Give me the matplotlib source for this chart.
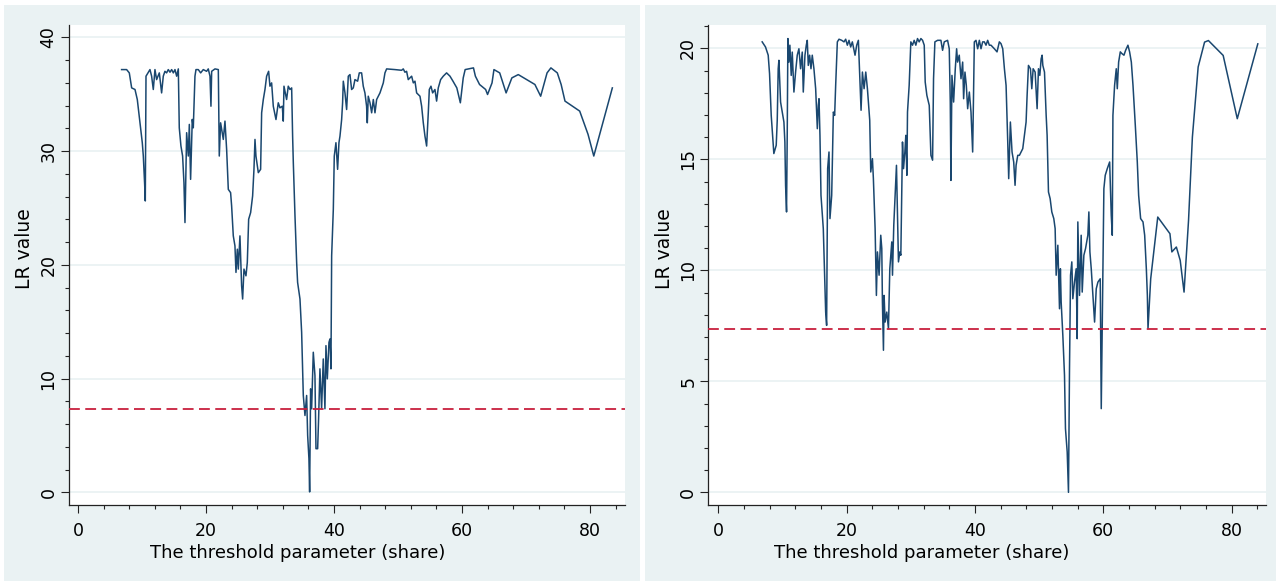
import numpy as np
import matplotlib
matplotlib.use("Agg")
import matplotlib.pyplot as plt
from matplotlib.patches import Rectangle
from matplotlib.ticker import MultipleLocator

# LR statistic over the threshold grid
share_left = [
    6.82, 7.60, 8.02, 8.39, 8.91, 9.27, 9.69, 10.05, 10.21, 10.42, 10.52, 10.63,
    11.25, 11.51, 11.77, 12.03, 12.29, 12.71, 13.07, 13.33, 13.59, 13.85, 14.11,
    14.38, 14.64, 14.90, 15.16, 15.42, 15.68, 15.83, 16.09, 16.35, 16.56, 16.72,
    16.98, 17.24, 17.40, 17.60, 17.86, 18.02, 18.28, 18.44, 18.80, 19.17, 19.58,
    20.10, 20.36, 20.63, 20.78, 20.89, 21.41, 21.93, 22.08, 22.29, 22.71, 22.97,
    23.23, 23.49, 23.85, 24.01, 24.27, 24.53, 24.69, 24.90, 25.05, 25.31, 25.57,
    25.73, 25.94, 26.25, 26.46, 26.67, 26.98, 27.29, 27.50, 27.66, 27.81, 28.18,
    28.54, 28.70, 28.96, 29.22, 29.48, 29.79, 30.00, 30.26, 30.52, 30.94, 31.30,
    31.56, 31.93, 32.08, 32.19, 32.60, 32.86, 33.13, 33.39, 33.54, 33.65, 33.91,
    34.17, 34.32, 34.69, 34.95, 35.21, 35.47, 35.73, 35.89, 36.09, 36.20, 36.35,
    36.51, 36.77, 37.03, 37.19, 37.45, 37.60, 37.81, 38.07, 38.33, 38.59, 38.75,
    38.96, 39.22, 39.38, 39.53, 39.64, 39.90, 40.05, 40.31, 40.57, 40.78, 40.94,
    41.20, 41.35, 41.46, 41.72, 41.98, 42.24, 42.50, 42.76, 43.02, 43.28, 43.70,
    43.96, 44.32, 44.58, 44.84, 45.10, 45.21, 45.36, 45.63, 45.89, 46.15, 46.41,
    46.67, 47.19, 47.71, 47.97, 48.23, 49.53, 50.57, 50.83, 51.09, 51.35, 51.61,
    51.88, 52.14, 52.40, 52.66, 52.92, 53.44, 53.70, 53.96, 54.22, 54.48, 54.74,
    54.90, 55.16, 55.42, 55.78, 56.04, 56.30, 56.67, 57.08, 57.60, 58.13, 58.60,
    59.20, 59.75, 60.20, 60.50, 61.80, 62.10, 62.75, 63.70, 64.00, 64.70, 65.00,
    65.90, 66.90, 67.80, 68.80, 70.10, 71.40, 72.30, 73.30, 73.90, 74.90, 75.50,
    76.10, 78.40, 79.70, 80.60, 83.50,
]
lr_left = [
    37.16, 37.16, 36.87, 35.55, 35.41, 34.53, 32.48, 30.73, 29.56, 27.07, 25.61, 36.58,
    37.16, 36.58, 35.41, 37.16, 36.28, 36.87, 35.11, 36.58, 37.01, 36.87, 37.16,
    36.93, 37.16, 36.87, 37.16, 36.58, 37.22, 32.04, 30.44, 29.56, 27.22, 23.71,
    31.61, 29.56, 32.34, 27.51, 32.78, 32.04, 36.58, 37.16, 37.16, 36.87, 37.16,
    37.01, 37.22, 36.58, 33.94, 37.01, 37.22, 37.16, 29.56, 32.48, 31.02, 32.63,
    30.14, 26.63, 26.34, 25.17, 22.54, 21.66, 19.33, 21.37, 19.62, 22.54, 18.16,
    16.99, 19.62, 19.03, 20.20, 24.00, 24.59, 26.05, 28.39, 31.02, 29.56, 28.10,
    28.39, 33.36, 34.53, 35.41, 36.58, 37.01, 35.70, 35.99, 33.94, 32.77, 34.24,
    33.80, 33.94, 32.63, 35.70, 34.53, 35.70, 35.41, 35.55, 31.31, 28.97, 24.30,
    20.20, 18.45, 16.99, 14.06, 8.51, 6.75, 8.51, 5.00, 2.95, 0.03, 9.09,
    7.34, 12.31, 10.26, 3.83, 3.83, 6.46, 10.85, 7.34, 11.72, 7.34, 12.89,
    9.97, 13.18, 13.48, 10.85, 20.79, 24.88, 29.56, 30.73, 28.39, 30.73, 31.31,
    32.77, 34.24, 36.14, 35.11, 33.65, 36.58, 36.72, 35.41, 35.55, 36.28, 36.14,
    36.87, 36.87, 35.70, 35.11, 33.94, 32.48, 34.82, 34.24, 33.36, 34.53, 33.36,
    34.53, 35.11, 35.99, 36.87, 37.22, 37.16, 37.10, 37.22, 36.93, 37.01, 36.28,
    36.43, 36.58, 35.99, 36.14, 35.11, 34.82, 33.94, 32.48, 31.31, 30.44, 33.36,
    35.41, 35.70, 35.11, 35.41, 34.39, 35.55, 36.28, 36.58, 36.87, 36.58, 36.14,
    35.55, 34.24, 36.43, 37.16, 37.31, 36.58, 35.85, 35.41, 34.97, 35.99, 37.16,
    36.87, 35.11, 36.43, 36.72, 36.29, 35.85, 34.82, 36.87, 37.31, 36.87, 35.85,
    34.39, 33.51, 31.47, 29.56, 35.55,
]

share_right = [
    6.82, 7.34, 7.76, 7.97, 8.23, 8.49, 8.64, 9.01, 9.17, 9.32, 9.43, 9.69, 9.95,
    10.21, 10.36, 10.47, 10.62, 10.73, 10.83, 10.99, 11.14, 11.35, 11.51, 11.77,
    12.03, 12.29, 12.55, 12.81, 13.07, 13.23, 13.49, 13.70, 13.85, 14.01, 14.22,
    14.43, 14.63, 14.89, 15.16, 15.42, 15.57, 15.68, 15.83, 15.99, 16.20, 16.35,
    16.51, 16.72, 16.87, 17.03, 17.24, 17.39, 17.66, 17.92, 18.12, 18.28, 18.54,
    18.80, 19.22, 19.58, 19.84, 20.10, 20.36, 20.62, 20.88, 21.30, 21.56, 21.82,
    22.03, 22.24, 22.45, 22.71, 22.97, 23.23, 23.59, 23.75, 24.01, 24.16, 24.43,
    24.63, 24.79, 25.05, 25.31, 25.47, 25.57, 25.73, 25.83, 25.99, 26.25, 26.51,
    26.72, 27.03, 27.14, 27.34, 27.55, 27.76, 28.07, 28.28, 28.44, 28.70, 28.86,
    29.07, 29.22, 29.38, 29.48, 29.74, 30.00, 30.26, 30.52, 30.78, 31.04, 31.30,
    31.57, 31.83, 32.09, 32.24, 32.50, 32.87, 33.13, 33.39, 33.54, 33.75, 34.17,
    34.69, 34.95, 35.21, 35.73, 35.99, 36.15, 36.25, 36.41, 36.67, 36.93, 37.14,
    37.29, 37.55, 37.82, 38.08, 38.23, 38.44, 38.65, 38.86, 39.12, 39.38, 39.64,
    39.90, 40.16, 40.42, 40.68, 40.94, 41.20, 41.46, 41.72, 41.98, 42.24, 42.50,
    43.02, 43.44, 43.80, 44.06, 44.33, 44.59, 44.85, 45.11, 45.26, 45.52, 45.78,
    46.04, 46.25, 46.41, 46.67, 46.93, 47.19, 47.45, 47.71, 47.97, 48.13, 48.34,
    48.65, 48.86, 49.07, 49.38, 49.69, 49.90, 50.11, 50.32, 50.47, 50.58, 50.84,
    51.10, 51.25, 51.46, 51.72, 51.98, 52.29, 52.50, 52.66, 52.92, 53.18, 53.32,
    53.44, 53.70, 53.96, 54.11, 54.38, 54.58, 54.74, 54.90, 55.10, 55.26, 55.52,
    55.78, 55.94, 56.04, 56.30, 56.56, 56.72, 56.98, 57.24, 57.60, 57.76, 57.92,
    58.13, 58.39, 58.65, 58.91, 59.17, 59.53, 59.69, 59.84, 60.10, 60.31, 60.63,
    61.00, 61.25, 61.41, 61.51, 61.77, 62.03, 62.19, 62.40, 62.66, 62.92, 63.23,
    63.49, 63.85, 64.11, 64.38, 64.64, 65.00, 65.31, 65.52, 65.83, 66.20, 66.46,
    66.72, 66.88, 66.98, 67.24, 67.40, 68.50, 70.40, 70.70, 71.40, 72.00, 72.60,
    73.30, 73.90, 74.80, 75.80, 76.40, 78.70, 80.90, 84.10,
]
lr_right = [
    20.29, 20.06, 19.69, 18.86, 16.98, 15.93, 15.26, 15.63, 16.76, 19.08, 19.46, 17.58, 17.13,
    16.68, 15.78, 13.83, 12.63, 16.23, 20.44, 19.38, 20.14, 18.78, 19.83, 18.03,
    18.93, 19.69, 19.98, 19.08, 19.83, 18.03, 19.69, 20.14, 20.36, 19.23, 19.69,
    19.08, 19.69, 19.08, 18.18, 16.38, 17.43, 17.73, 16.08, 13.38, 12.48, 11.88,
    10.23, 8.12, 7.52, 14.58, 15.33, 12.33, 13.38, 17.13, 16.98, 18.33, 20.29,
    20.41, 20.36, 20.29, 20.41, 20.14, 20.36, 20.06, 20.29, 19.69, 20.14, 20.36,
    18.78, 17.21, 18.93, 18.18, 18.93, 18.18, 16.76, 14.43, 15.03, 14.13, 11.88,
    8.87, 10.83, 9.78, 11.58, 10.98, 8.57, 6.40, 8.87, 7.67, 8.12, 7.37,
    10.07, 11.28, 9.78, 12.03, 13.38, 14.73, 10.38, 10.83, 10.68, 15.78, 14.58,
    15.33, 16.08, 14.28, 17.13, 18.33, 20.29, 20.14, 20.36, 20.14, 20.44, 20.29,
    20.44, 20.36, 20.14, 18.48, 17.88, 17.43, 15.18, 14.96, 18.63, 20.29, 20.36,
    20.36, 19.91, 20.29, 20.36, 19.98, 17.58, 14.05, 18.78, 17.58, 19.08, 19.98,
    19.38, 19.69, 18.63, 19.38, 17.73, 18.93, 18.33, 17.28, 18.03, 17.13, 15.33,
    20.29, 20.36, 19.98, 20.36, 19.98, 20.29, 20.29, 20.14, 20.36, 20.14, 20.14,
    19.98, 19.84, 20.29, 20.21, 19.98, 19.08, 18.33, 15.78, 14.13, 16.68, 15.33,
    14.88, 13.83, 14.73, 15.18, 15.18, 15.33, 15.48, 16.08, 16.68, 17.88, 19.23,
    19.08, 18.18, 19.08, 18.93, 17.28, 19.08, 18.78, 19.53, 19.69, 19.23, 18.93,
    16.98, 16.08, 13.53, 13.23, 12.63, 12.33, 11.88, 9.78, 11.13, 8.27, 10.07,
    8.57, 7.07, 5.27, 2.87, 1.82, 0.00, 5.57, 9.78, 10.38, 8.72, 9.47,
    10.07, 6.92, 12.18, 8.87, 11.58, 9.02, 10.68, 10.98, 11.58, 12.63, 10.83,
    10.07, 8.87, 7.67, 9.17, 9.47, 9.62, 3.77, 7.37, 13.68, 14.28, 14.58,
    14.88, 12.48, 11.58, 16.98, 18.33, 19.08, 18.18, 19.38, 19.84, 19.76, 19.69,
    19.91, 20.14, 19.84, 19.38, 18.33, 16.53, 14.88, 13.38, 12.33, 12.18, 11.58,
    10.07, 8.87, 7.37, 8.72, 9.62, 12.40, 11.65, 10.83, 11.05, 10.45, 9.02,
    12.25, 16.00, 19.16, 20.28, 20.35, 19.68, 16.83, 20.20,
]

crit_value = 7.35
xticks = [0, 20, 40, 60, 80]
yticks_left = [0, 10, 20, 30, 40]
yticks_right = [0, 5, 10, 15, 20]

W, H = 1279, 581
bg = "#eaf2f3"
navy = "#1a476f"
red = "#c8203e"

fig = plt.figure(figsize=(W / 100, H / 100), dpi=100)
fig.patch.set_facecolor("white")

# stata-style grey-blue panel backgrounds
fig.patches.append(Rectangle((4 / W, 0), 636 / W, 576 / H, transform=fig.transFigure,
                             facecolor=bg, edgecolor="none", zorder=-10))
fig.patches.append(Rectangle((645 / W, 0), 631 / W, 576 / H, transform=fig.transFigure,
                             facecolor=bg, edgecolor="none", zorder=-10))


def make_panel(px_left, px_right, x, y, yticks, ylim, xlim, yminor, xlab_x):
    ax = fig.add_axes([px_left / W, (H - 505) / H, (px_right - px_left) / W, 480 / H])
    ax.set_facecolor("white")
    ax.plot(x, y, color=navy, lw=1.1, zorder=3)
    ax.axhline(crit_value, color=red, lw=1.3, ls=(0, (6, 3)), zorder=4)

    ax.set_xlim(*xlim)
    ax.set_ylim(*ylim)
    ax.set_xticks(xticks)
    ax.set_yticks(yticks)
    ax.xaxis.set_minor_locator(MultipleLocator(4))
    ax.yaxis.set_minor_locator(MultipleLocator(yminor))
    ax.grid(axis="y", which="major", color=bg, lw=1.3, zorder=0)

    for s in ["top", "right"]:
        ax.spines[s].set_visible(False)
    for s in ["left", "bottom"]:
        ax.spines[s].set_color("#222222")
        ax.spines[s].set_linewidth(0.9)

    ax.tick_params(axis="both", which="major", length=5.5, width=0.8, color="#222222",
                   labelsize=12.5, labelcolor="black")
    ax.tick_params(axis="both", which="minor", length=2.7, width=0.8, color="#222222")
    ax.tick_params(axis="x", which="major", pad=7)
    ax.tick_params(axis="y", which="major", pad=2.5, labelrotation=90)
    for lbl in ax.get_yticklabels():
        lbl.set_va("center")

    ax.set_xlabel("The threshold parameter (share)", fontsize=13)
    ax.xaxis.set_label_coords(xlab_x, -0.082)
    ax.set_ylabel("LR value", fontsize=13.5)
    ax.yaxis.set_label_coords(-0.062, 0.535)
    return ax


make_panel(68.5, 624.5, share_left, lr_left, yticks_left, (-1.12, 41.08), (-1.48, 85.4), 2, 0.412)
make_panel(708.3, 1265.5, share_right, lr_right, yticks_right, (-0.57, 21.05), (-1.58, 85.3), 1, 0.3835)

fig.savefig("out.png", dpi=100, facecolor=fig.get_facecolor())
